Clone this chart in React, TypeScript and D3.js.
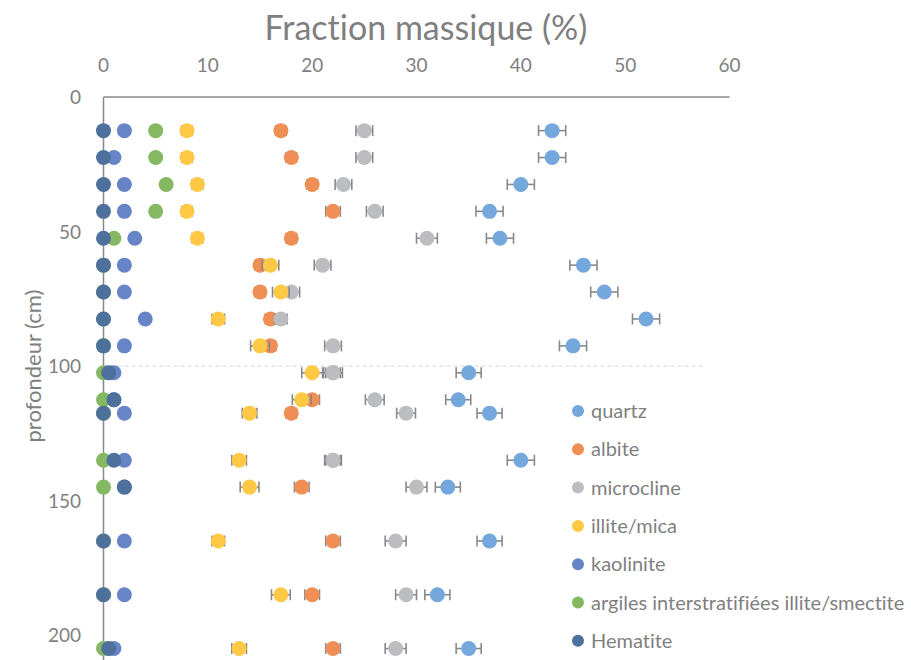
import * as d3 from 'd3';

// profondeur des prélèvements (cm)
const depths = [12.5, 22.5, 32.5, 42.5, 52.5, 62.5, 72.5, 82.5, 92.5, 102.5, 112.5, 117.5, 135, 145, 165, 185, 205];

// fractions massiques (%)
const quartz = [43, 43, 40, 37, 38, 46, 48, 52, 45, 35, 34, 37, 40, 33, 37, 32, 35];
const albite = [17, 18, 20, 22, 18, 15, 15, 16, 16, 22, 20, 18, 22, 19, 22, 20, 22];
const microcline = [25, 25, 23, 26, 31, 21, 18, 17, 22, 22, 26, 29, 22, 30, 28, 29, 28];
const illite = [8, 8, 9, 8, 9, 16, 17, 11, 15, 20, 19, 14, 13, 14, 11, 17, 13];
const kaolinite = [2, 1, 2, 2, 3, 2, 2, 4, 2, 1, 1, 2, 2, 2, 2, 2, 1];
const argiles = [5, 5, 6, 5, 1, 0, 0, 0, 0, 0, 0, 0, 0, 0, 0, 0, 0];
const hematite = [0, 0, 0, 0, 0, 0, 0, 0, 0, 0.5, 1, 0, 1, 2, 0, 0, 0.5];

// barres d'erreur (±%)
const quartzErr = [1.3, 1.3, 1.3, 1.3, 1.3, 1.3, 1.3, 1.3, 1.3, 1.2, 1.2, 1.2, 1.3, 1.2, 1.2, 1.2, 1.2];
const albiteErr = [0.5, 0.5, 0.5, 0.7, 0.5, 0.5, 0.5, 0.5, 0.5, 0.7, 0.7, 0.5, 0.7, 0.7, 0.7, 0.7, 0.7];
const microclineErr = [0.8, 0.8, 0.8, 0.8, 1, 0.8, 0.8, 0.6, 0.8, 0.9, 0.9, 0.9, 0.8, 1, 1, 1, 1];
const illiteErr = [0.5, 0.5, 0.5, 0.5, 0.5, 0.8, 0.8, 0.6, 0.9, 1, 0.9, 0.7, 0.7, 0.9, 0.6, 0.9, 0.7];

const xTicks = [0, 10, 20, 30, 40, 50, 60];
const yTicks = [0, 50, 100, 150, 200];

const series = [
  { name: 'quartz', values: quartz, err: quartzErr, color: '#74a7db' },
  { name: 'albite', values: albite, err: albiteErr, color: '#f08f55' },
  { name: 'microcline', values: microcline, err: microclineErr, color: '#bcbdc0' },
  { name: 'illite/mica', values: illite, err: illiteErr, color: '#ffc845' },
  { name: 'kaolinite', values: kaolinite, err: null, color: '#6785c6' },
  { name: 'argiles interstratifiées illite/smectite', values: argiles, err: null, color: '#85b862' },
  { name: 'Hematite', values: hematite, err: null, color: '#4d719c' },
];

const W = 911;
const H = 660;
const font = 'Lato, "Open Sans", sans-serif';
const textCol = '#7f7f7f';
const axisCol = '#898989';

export default function App() {
  const x = d3.scaleLinear().domain([0, 60]).range([103.5, 729.5]);
  const y = d3.scaleLinear().domain([0, 210]).range([97, 662]);
  const r = 7.5;

  return (
    <div style={{ position: 'absolute', left: 0, top: 0 }}>
      <svg
        width={W}
        height={H}
        style={{ display: 'block', fontFamily: font, fontVariantLigatures: 'none' }}
      >
        <rect width={W} height={H} fill="#fff" />

        {/* titre */}
        <text x={426} y={40} textAnchor="middle" fontSize={34} fill={textCol}>
          Fraction massique (%)
        </text>
        <text
          transform={`translate(41,${y(100)}) rotate(-90)`}
          textAnchor="middle"
          fontSize={22}
          fill={textCol}
        >
          profondeur (cm)
        </text>

        {/* graduations */}
        {xTicks.map(t => (
          <text key={t} x={x(t)} y={72} textAnchor="middle" fontSize={19} fill={textCol}>
            {t}
          </text>
        ))}
        {yTicks.map(t => (
          <text key={t} x={81} y={y(t) + 7} textAnchor="end" fontSize={19} fill={textCol}>
            {t}
          </text>
        ))}

        {/* ligne pointillée à 100 cm */}
        <line x1={x(0)} x2={x(57.5)} y1={y(100)} y2={y(100)} stroke="#d4d4d4" strokeWidth={1} strokeDasharray="4,3" />

        {/* axes */}
        <line x1={x(0)} x2={x(60)} y1={y(0)} y2={y(0)} stroke={axisCol} strokeWidth={1.5} />
        <line x1={x(0)} x2={x(0)} y1={y(0)} y2={H} stroke={axisCol} strokeWidth={1.5} />

        {/* séries */}
        {series.map(s => (
          <g key={s.name}>
            {s.err &&
              s.values.map((v, i) => {
                const e = s.err![i];
                const cy = y(depths[i]);
                return (
                  <g key={i} stroke={axisCol} strokeWidth={1.6}>
                    <line x1={x(v - e)} x2={x(v + e)} y1={cy} y2={cy} />
                    <line x1={x(v - e)} x2={x(v - e)} y1={cy - 5.5} y2={cy + 5.5} />
                    <line x1={x(v + e)} x2={x(v + e)} y1={cy - 5.5} y2={cy + 5.5} />
                  </g>
                );
              })}
            {s.values.map((v, i) => (
              <circle key={i} cx={x(v)} cy={y(depths[i])} r={r} fill={s.color} />
            ))}
          </g>
        ))}

        {/* légende */}
        {series.map((s, i) => (
          <g key={s.name} transform={`translate(578,${411 + i * 38.3})`}>
            <circle r={6} fill={s.color} />
            <text x={13} y={7} fontSize={20} fill={textCol}>
              {s.name}
            </text>
          </g>
        ))}
      </svg>
    </div>
  );
}
